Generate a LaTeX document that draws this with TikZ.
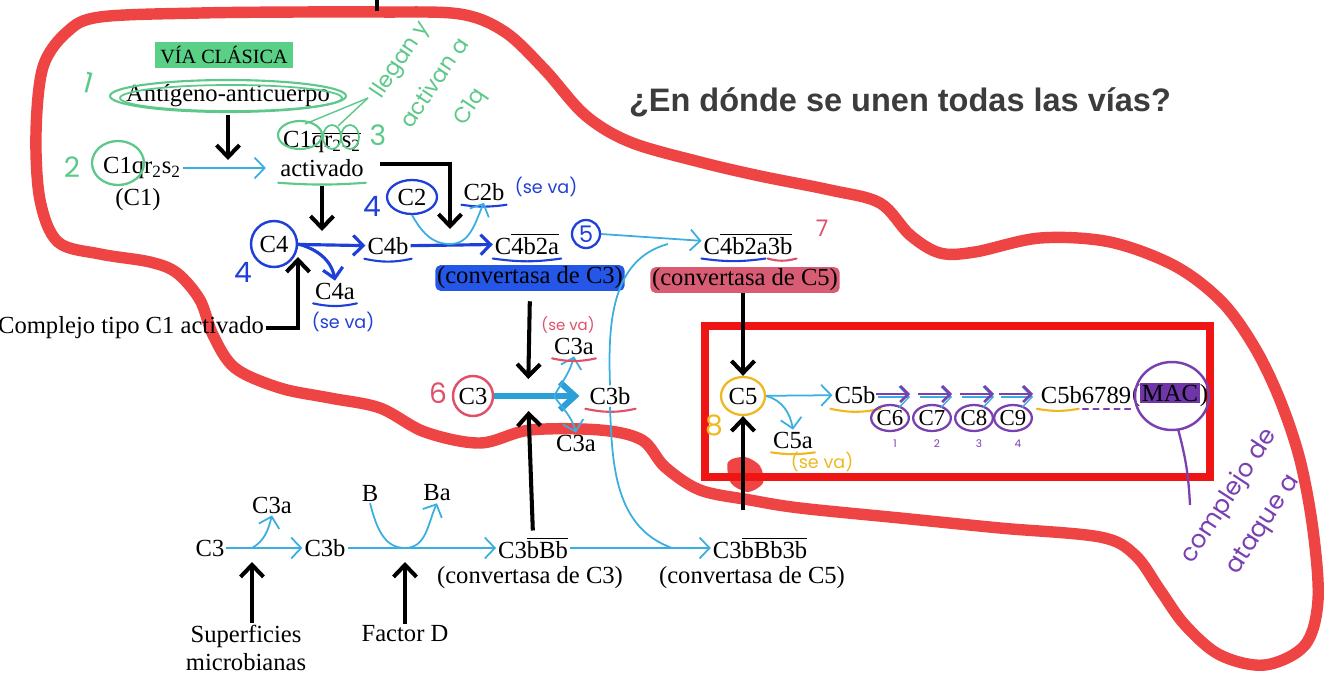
\documentclass[tikz,border=0pt]{standalone}
\usepackage{fontspec}
\setmainfont{Liberation Serif}
\newfontfamily\titlefont{Liberation Sans}
\newfontfamily\handfont{Poppins}
\usetikzlibrary{arrows.meta,positioning,shapes.geometric,calc}

\definecolor{outred}{HTML}{EE4444}
\definecolor{boxred}{HTML}{F01515}
\definecolor{lblue}{HTML}{3AAEE0}
\definecolor{fatblue}{HTML}{2A9FD8}
\definecolor{penblue}{HTML}{1E40D8}
\definecolor{hlblue}{HTML}{2457E8}
\definecolor{hlpink}{HTML}{D95C75}
\definecolor{pengreen}{HTML}{5CC98A}
\definecolor{hlgreen}{HTML}{5ACF86}
\definecolor{penred}{HTML}{E05068}
\definecolor{penyellow}{HTML}{F0B820}
\definecolor{penpurple}{HTML}{7A40B0}
\definecolor{hlpurple}{HTML}{6E36A6}
\definecolor{titlegray}{HTML}{3C3C3C}

\newcommand{\ovl}[1]{$\overline{\hbox{#1}}$}
\newcommand{\lsub}[1]{\textsubscript{#1}}

\begin{document}
\begin{tikzpicture}[x=0.02cm, y=-0.02cm,
  lbl/.style={inner sep=1pt, font=\fontsize{14}{16}\selectfont},
  hand/.style={inner sep=0pt, font=\handfont\fontsize{10}{11}\selectfont},
  bignum/.style={inner sep=0pt, font=\handfont\fontsize{16}{17}\selectfont},
  ring/.style={circle, draw, line width=1.4pt, inner sep=1pt},
  oval/.style={ellipse, draw, line width=1.3pt, inner sep=0.5pt},
  bigarrow/.style={draw=black, line width=2.3pt, -{Straight Barb[length=2.4mm,width=4.6mm]}},
  thinarrow/.style={draw=lblue, line width=1pt, -{Straight Barb[length=2mm,width=4.2mm]}},
  thinline/.style={draw=lblue, line width=1pt},
  penarrow/.style={draw=penblue, line width=1.8pt, -{Straight Barb[length=2mm,width=4mm]}},
  purparrow/.style={draw=penpurple, line width=1.5pt, -{Straight Barb[length=1.6mm,width=3.2mm]}},
  uline/.style={line width=1.2pt, line cap=round},
]
\useasboundingbox (0,0) rectangle (1334,680);
\fill[white] (0,0) rectangle (1334,680);

% red pen outline and box
\draw[outred, line width=6.5pt, line join=round] plot[smooth cycle, tension=0.55] coordinates {
  (100,17) (200,13) (300,12) (380,12) (460,14) (505,32) (545,70) (585,115) (630,142)
  (700,162) (760,176) (830,190) (880,203) (910,235) (940,253) (975,252) (1040,238)
  (1110,242) (1175,266) (1222,302) (1255,348) (1280,400) (1300,460) (1313,530)
  (1318,600) (1305,645) (1265,665) (1220,655) (1185,625) (1160,590) (1135,555)
  (1100,537) (1000,528) (900,518) (800,508) (750,500) (700,490) (665,467) (642,440)
  (600,430) (530,430) (480,443) (425,432) (380,408) (330,398) (280,388) (235,368)
  (213,335) (200,300) (177,273) (150,262) (100,254) (58,242) (40,200) (36,133)
  (43,67) (67,32)};
\fill[outred] plot[smooth cycle] coordinates {(728,462) (745,457) (760,466) (763,483) (748,492) (731,483)};
\draw[boxred, line width=4.5pt] (705,326) rectangle (1210,477);
\draw[line width=2.3pt] (377,0) -- (377,11);

% title
\node[font=\titlefont\bfseries\fontsize{18.5}{20}\selectfont, text=titlegray] (title) at (900,102) {¿En dónde se unen todas las vías?};

% classical pathway
\node[lbl, fill=hlgreen, font=\fontsize{11.5}{13}\selectfont, inner xsep=3pt, minimum height=0.52cm] (via) at (224,55) {VÍA CLÁSICA};
\node[lbl] (ag) at (228,96) {Antígeno-anticuerpo};
\draw[pengreen, line width=1.2pt] (ag) ellipse (118 and 16);
\draw[pengreen, line width=1pt] ($(ag)+(3,2)$) ellipse (111 and 13);
\node[bignum, text=pengreen, rotate=-15] (g1) at (88,83) {1};

\node[lbl] (c1) at (142,168) {C1qr\lsub{2}s\lsub{2}};
\node[lbl] (c1lab) at (138,200) {(C1)};
\draw[pengreen, line width=1.3pt] (118,163) ellipse (26 and 22);
\node[bignum, text=pengreen] (g2) at (72,167) {2};

\node[lbl] (c1act) at (322,142) {C1\ovl{qr\lsub{2}s\lsub{2}}};
\node[lbl] (act) at (322,168) {activado};
\draw[pengreen, line width=1.2pt] (300,135) ellipse (22 and 14);
\draw[pengreen, line width=1pt] (332,137) ellipse (9 and 12);
\draw[pengreen, line width=1pt] (350,137) ellipse (9 and 12);
\draw[pengreen, uline] ([shift={(0,4)}]act.south west) to[bend right=4] ([shift={(0,4)}]act.south east);
\node[bignum, text=pengreen] (g3) at (378,135) {3};
\node[hand, text=pengreen, rotate=56, align=center, font=\handfont\fontsize{12.5}{24}\selectfont] (lleg) at (436,84) {llegan y\\activan a\\C1q};
\coordinate (lleg0) at (368,98);
\draw[pengreen, line width=0.8pt] (305,124) -- (lleg0);
\draw[pengreen, line width=0.8pt] (338,126) -- (lleg0);

\coordinate (j0) at (228,168);
\draw[bigarrow, shorten <=0.12cm, shorten >=0.16cm] (ag.south) -- (j0);
\draw[thinarrow, shorten >=0.25cm] (c1) -- (act);

% C4 and C2
\node[lbl, ring, draw=penblue, minimum size=0.92cm] (c4) at (274,244) {C4};
\node[lbl] (c4b) at (388,246) {C4b};
\node[lbl] (c4a) at (335,291) {C4a};
\node[bignum, text=penblue] (b4a) at (243,272) {4};
\node[hand, text=penblue] (sv1) at (343,322) {(se va)};
\coordinate (j1) at (322,246);
\draw[bigarrow, shorten <=0.14cm, shorten >=0.3cm] (act.south) -- (j1);
\draw[penarrow] (c4) -- (c4b);
\draw[penarrow] (c4.east) to[out=-15, in=100] (c4a.north);
\draw[penblue, uline] ([shift={(-1,2)}]c4b.south west) to[bend right=12] ([shift={(1,2)}]c4b.south east);
\draw[penblue, uline] ([shift={(0,2)}]c4a.south west) to[bend right=12] ([shift={(0,2)}]c4a.south east);

\node[lbl, anchor=east] (cx) at (266,328) {Complejo tipo C1 activado};
\coordinate (j3) at (298,250);
\draw[bigarrow, shorten >=0.14cm] (cx.east) -| (j3);

\node[lbl, oval, draw=penblue, minimum width=1.0cm, minimum height=0.68cm] (c2) at (412,197) {C2};
\node[bignum, text=penblue] (b4b) at (372,206) {4};
\node[lbl] (c2b) at (484,192) {C2b};
\node[hand, text=penblue] (sv2) at (546,187) {(se va)};
\draw[penblue, uline] ([shift={(0,2)}]c2b.south west) to[bend right=8] ([shift={(0,2)}]c2b.south east);

\coordinate (j2) at (450,244);
\draw[bigarrow, shorten >=0.3cm] ([shift={(14,-4)}]act.east) -| (j2);
\node[lbl] (c4b2a) at (527,244) {C\ovl{4b2a}};
\draw[penarrow] (c4b) -- (c4b2a);
\draw[thinarrow] (c2.south) to[out=-60, in=180] (j2) to[out=0, in=-115] (c2b.south);
\draw[penblue, uline] ([shift={(0,2)}]c4b2a.south west) to[bend right=8] ([shift={(0,2)}]c4b2a.south east);
\node[hand, ring, draw=penblue, text=penblue, line width=1.3pt, minimum size=0.56cm, font=\handfont\fontsize{13}{14}\selectfont] (n5) at (586,234) {5};
\node[lbl, fill=hlblue, rounded corners=3pt] (conv3) at (530,278) {(convertasa de C3)};

% C5 convertase (classical)
\node[lbl] (c4b2a3b) at (748,244) {C\ovl{4b2a3b}};
\node[lbl, fill=hlpink, rounded corners=3pt] (conv5) at (745,280) {(convertasa de C5)};
\node[bignum, text=penred, font=\handfont\fontsize{13}{14}\selectfont] (r7) at (822,228) {7};
\coordinate (j8) at (668,244);
\draw[thinarrow] (n5.east) -- (c4b2a3b);
\draw[penblue, uline] ([shift={(0,2)}]c4b2a3b.south west) to[bend right=8] ([shift={(64,2)}]c4b2a3b.south west);
\draw[penred, uline] ([shift={(66,2)}]c4b2a3b.south west) to[bend right=15] ([shift={(2,2)}]c4b2a3b.south east);

% C3 cleavage
\node[lbl, ring, draw=penred, minimum size=0.8cm] (c3) at (473,396) {C3};
\node[bignum, text=penred] (r6) at (438,393) {6};
\node[lbl] (c3b) at (610,396) {C3b};
\node[lbl] (c3a1) at (574,346) {C3a};
\node[hand, text=penred, font=\handfont\fontsize{8.5}{9}\selectfont] (sv3) at (568,325) {(se va)};
\node[lbl] (c3a2) at (576,443) {C3a};
\coordinate (j6) at (528,396);
\coordinate (j7) at (554,396);
\draw[fatblue, line width=3.4pt, shorten >=0.16cm, -{Straight Barb[length=3mm,width=5.5mm]}] (c3) -- (c3b);
\draw[bigarrow, shorten <=0.2cm, shorten >=0.34cm] (conv3.south) -- (j6);
\draw[thinarrow] (j7) to[out=60, in=-105] (c3a1.south);
\draw[thinarrow] (j7) to[out=-55, in=105] (c3a2.north);
\draw[penred, uline] ([shift={(0,2)}]c3a1.south west) to[bend right=12] ([shift={(0,2)}]c3a1.south east);
\draw[penred, uline] ([shift={(-2,2)}]c3b.south west) to[bend right=12] ([shift={(3,2)}]c3b.south east);
\draw[thinline] (c3b.north) to[out=92, in=195] (j8);

% alternative pathway
\node[lbl] (bc3) at (210,548) {C3};
\node[lbl] (bc3b) at (325,548) {C3b};
\node[lbl] (bc3a) at (272,505) {C3a};
\node[lbl, align=center] (sup) at (246,648) {Superficies\\microbianas};
\coordinate (k1) at (252,548);
\draw[thinarrow] (bc3) -- (bc3b);
\draw[thinarrow] (k1) to[out=30, in=-105] (bc3a.south);
\draw[bigarrow, shorten >=0.28cm] (sup.north -| k1) -- (k1);

\node[lbl] (bb) at (370,493) {B};
\node[lbl] (bba) at (437,493) {Ba};
\node[lbl] (fd) at (405,634) {Factor D};
\node[lbl] (bc3bbb) at (533,548) {C3\ovl{bBb}};
\node[lbl] (bconv3) at (530,578) {(convertasa de C3)};
\node[lbl] (bc3bbb3b) at (760,548) {C3\ovl{bBb3b}};
\node[lbl] (bconv5) at (752,578) {(convertasa de C5)};
\coordinate (k2) at (405,548);
\coordinate (j9) at (672,548);
\draw[thinarrow] (bc3b) -- (bc3bbb);
\draw[thinarrow] (bb.south) to[out=-75, in=180] (k2) to[out=0, in=-115] (bba.south);
\draw[bigarrow, shorten >=0.28cm] (fd.north) -- (k2);
\draw[thinarrow] (bc3bbb) -- (bc3bbb3b);
\draw[thinline] (c3b.south) to[out=-88, in=160] (j9);
\draw[bigarrow, shorten <=0.1cm, shorten >=0.3cm] (bc3bbb.north) -- (j6);

% terminal pathway
\node[lbl, oval, draw=penyellow, minimum width=0.88cm, minimum height=0.76cm] (c5) at (743,396) {C5};
\node[bignum, text=penyellow] (y8) at (714,425) {8};
\draw[bigarrow] (conv5.south -| c5) -- (c5.north);
\draw[bigarrow, shorten <=0.5cm] (c5 |- bc3bbb3b.north) -- (c5.south);
\node[lbl] (c5b) at (855,395) {C5b};
\node[lbl] (c5a) at (793,440) {C5a};
\node[hand, text=penyellow] (sv4) at (822,462) {(se va)};
\draw[thinarrow] (c5) -- (c5b);
\draw[thinarrow] (c5.east) to[out=-15, in=100] (c5a.north);
\draw[penyellow, uline] ([shift={(0,2)}]c5a.south west) to[bend right=8] ([shift={(0,2)}]c5a.south east);
\draw[penyellow, uline] ([shift={(-2,3)}]c5b.south west) to[bend right=12] ([shift={(3,3)}]c5b.south east);

\foreach \n/\x/\k in {6/890/1, 7/932/2, 8/974/3, 9/1013/4} {
  \node[lbl, oval, draw=penpurple, font=\fontsize{13}{14}\selectfont, minimum width=0.72cm, minimum height=0.52cm, inner sep=0pt] (c\n) at (\x,418) {C\n};
  \node[hand, text=penpurple, font=\handfont\fontsize{6}{7}\selectfont] (m\k) at (\x+5,444) {\k};
  \draw[thinarrow, line width=0.8pt] ([shift={(-12,-21)}]c\n.center) -- ([shift={(20,-21)}]c\n.center);
  \draw[purparrow] ([shift={(-14,-24)}]c\n.center) -- ([shift={(20,-24)}]c\n.center);
}
\node[lbl] (c5b6789) at (1086,395) {C5b6789};
\draw[penyellow, uline] ([shift={(-2,3)}]c5b6789.south west) to[bend right=10] ([shift={(40,3)}]c5b6789.south west);
\draw[penpurple, uline, dashed] ([shift={(44,3)}]c5b6789.south west) -- ([shift={(0,3)}]c5b6789.south east);
\node[lbl] (mac) at (1170,395) {(\setlength{\fboxsep}{1pt}\colorbox{hlpurple}{MAC})};
\draw[penpurple, line width=1.4pt] (1172,396) ellipse (37 and 34);
\coordinate (macend) at (1190,505);
\draw[penpurple, line width=1.3pt] ([shift={(8,34)}]mac.center) to[bend left=6] (macend);
\node[hand, text=penpurple, rotate=57, align=left, font=\handfont\fontsize{14}{25}\selectfont] (mactxt) at (1248,508) {complejo de\\\hspace{0.3cm}ataque a};

\end{tikzpicture}
\end{document}
